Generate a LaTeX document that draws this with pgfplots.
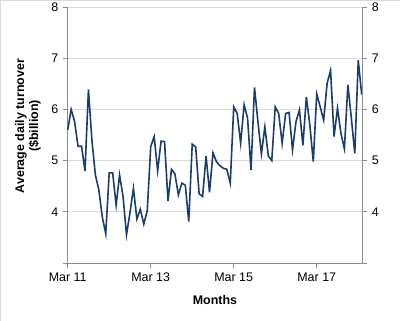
\documentclass[border=0pt]{standalone}
\usepackage{pgfplots}
\pgfplotsset{compat=1.18}
\usepackage{fontspec}
\setmainfont{Liberation Sans}
\definecolor{navy}{RGB}{27,60,110}
\definecolor{axgray}{RGB}{140,140,140}
\definecolor{gridgray}{RGB}{217,217,217}
\begin{document}
\begin{tikzpicture}
\useasboundingbox (0,0) rectangle (400bp,321bp);
\draw[gridgray,line width=0.6bp] (0.3bp,0) -- (0.3bp,320.7bp) -- (400bp,320.7bp);
\pgfplotsset{
  common/.style={
    scale only axis, width=294.7bp, height=256bp,
    at={(67.7bp,58bp)}, anchor=south west,
    xmin=0, xmax=85.2, ymin=3, ymax=8,
    ytick={3,4,5,6,7,8},
    yticklabels={,4,5,6,7,8},
    tick label style={font=\fontsize{12.5}{14}\selectfont},
    /pgf/number format/assume math mode=true,
    tick style={axgray, line width=0.8bp},
    major tick length=5bp,
    tick align=outside,
  }
}
\begin{axis}[common,
  axis y line*=left, axis x line*=bottom,
  axis line style={axgray, line width=0.8bp},
  xtick={0,24,48,72},
  xticklabels={Mar 11,Mar 13,Mar 15,Mar 17},
  ymajorgrids, grid style={gridgray, line width=0.7bp},
  xticklabel style={yshift=-1bp},
  yticklabel style={xshift=-1bp},
  clip=false,
]
\addplot[navy, line width=1.6bp] coordinates {
(0,5.6) (1,6.0) (2,5.76) (3,5.28) (4,5.28) (5,4.8) (6,6.39) (7,5.4) (8,4.72) (9,4.43)
(10,3.9) (11,3.57) (12,4.76) (13,4.76) (14,4.13) (15,4.72) (16,4.3) (17,3.55) (18,3.98) (19,4.46)
(20,3.86) (21,4.05) (22,3.76) (23,4.02) (24,5.27) (25,5.47) (26,4.8) (27,5.38) (28,5.37) (29,4.21)
(30,4.83) (31,4.74) (32,4.33) (33,4.56) (34,4.52) (35,3.81) (36,5.32) (37,5.27) (38,4.35) (39,4.3)
(40,5.09) (41,4.38) (42,5.15) (43,4.98) (44,4.9) (45,4.85) (46,4.83) (47,4.56) (48,6.05) (49,5.92)
(50,5.34) (51,6.09) (52,5.83) (53,4.82) (54,6.43) (55,5.76) (56,5.13) (57,5.66) (58,5.09) (59,5.0)
(60,6.05) (61,5.92) (62,5.34) (63,5.92) (64,5.94) (65,5.21) (66,5.76) (67,5.99) (68,5.3) (69,6.24)
(70,5.7) (71,4.98) (72,6.3) (73,6.05) (74,5.79) (75,6.51) (76,6.76) (77,5.47) (78,6.02) (79,5.53)
(80,5.23) (81,6.48) (82,5.83) (83,5.14) (84,6.96) (85,6.29)
};
\end{axis}
\begin{axis}[common,
  axis y line*=right, axis x line=none,
  axis line style={axgray, line width=0.8bp},
  yticklabel style={xshift=1bp},
]
\end{axis}
\node[font=\fontsize{12.5}{14}\selectfont\bfseries] at (215bp,20.5bp) {Months};
\node[font=\fontsize{12.5}{14}\selectfont\bfseries, rotate=90, align=center] at (28bp,195bp) {Average daily turnover\\(\$billion)};
\end{tikzpicture}
\end{document}
